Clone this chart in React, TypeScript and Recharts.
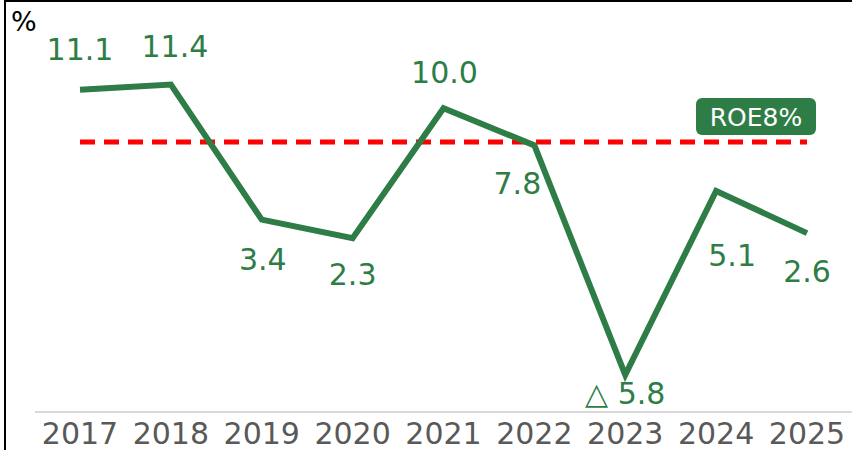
import { CartesianGrid, LabelList, Line, LineChart, ReferenceLine, XAxis, YAxis } from "recharts";

const years = ["2017", "2018", "2019", "2020", "2021", "2022", "2023", "2024", "2025"];
const roe = [11.1, 11.4, 3.4, 2.3, 10.0, 7.8, -5.8, 5.1, 2.6];
const target = 8;

// where each value label sits relative to its point
const labelOffsets = [
  { dx: 0, dy: -40 },
  { dx: 4, dy: -38 },
  { dx: 1, dy: 40 },
  { dx: 0, dy: 36 },
  { dx: 1, dy: -36 },
  { dx: -17, dy: 38 },
  { dx: 0, dy: 19 },
  { dx: 16, dy: 65 },
  { dx: 0, dy: 38 },
];

const GREEN = "#2e7d46";
const FONT = "'DejaVu Sans', sans-serif";

const data = years.map((year, i) => ({ year, roe: roe[i] }));

const fmt = (v: number) => (v < 0 ? `△ ${Math.abs(v).toFixed(1)}` : v.toFixed(1));

function ValueLabel(props: any) {
  const { x, y, index, value } = props;
  const off = labelOffsets[index] ?? { dx: 0, dy: -30 };
  return (
    <text
      x={x + off.dx}
      y={y + off.dy}
      textAnchor="middle"
      dominantBaseline="central"
      fill={GREEN}
      fontSize={30}
      fontFamily={FONT}
    >
      {fmt(value)}
    </text>
  );
}

function TargetBadge(props: any) {
  const { viewBox } = props;
  if (!viewBox) return null;
  const right = viewBox.x + viewBox.width + 9;
  const w = 120;
  const h = 37;
  const top = viewBox.y - 44;
  return (
    <g>
      <rect x={right - w} y={top} width={w} height={h} rx={6} ry={6} fill={GREEN} />
      <text
        x={right - w / 2}
        y={top + h / 2 + 1}
        textAnchor="middle"
        dominantBaseline="central"
        fill="#fff"
        fontSize={25}
        fontFamily={FONT}
      >
        ROE8%
      </text>
    </g>
  );
}

export default function App() {
  return (
    <div style={{ position: "fixed", left: 0, top: 0, width: 852, height: 450, background: "#fff", overflow: "hidden" }}>
      <div style={{ position: "absolute", left: 4, top: 0, width: 860, height: 460, borderLeft: "2px solid #000", borderTop: "2px solid #000" }} />
      <div style={{ position: "absolute", left: 11, top: 6, fontSize: 27, fontFamily: FONT, color: "#000" }}>%</div>
      <LineChart width={852} height={450} data={data} margin={{ top: 7, right: 0, bottom: 0, left: 35 }}>
        <CartesianGrid horizontal={false} vertical={false} />
        <XAxis
          dataKey="year"
          height={38}
          padding={{ left: 45, right: 45 }}
          axisLine={{ stroke: "#d9d9d9", strokeWidth: 2 }}
          tickLine={false}
          tickSize={0}
          tickMargin={11}
          interval={0}
          tick={{ fill: "#595959", fontSize: 30, fontFamily: FONT }}
        />
        <YAxis hide domain={[-8, 16]} />
        <ReferenceLine
          segment={[
            { x: years[0], y: target },
            { x: years[years.length - 1], y: target },
          ]}
          stroke="#ff0000"
          strokeWidth={5}
          strokeDasharray="15 9"
          label={<TargetBadge />}
        />
        <Line
          dataKey="roe"
          stroke={GREEN}
          strokeWidth={6}
          dot={false}
          activeDot={false}
          isAnimationActive={false}
        >
          <LabelList dataKey="roe" content={<ValueLabel />} />
        </Line>
      </LineChart>
    </div>
  );
}
